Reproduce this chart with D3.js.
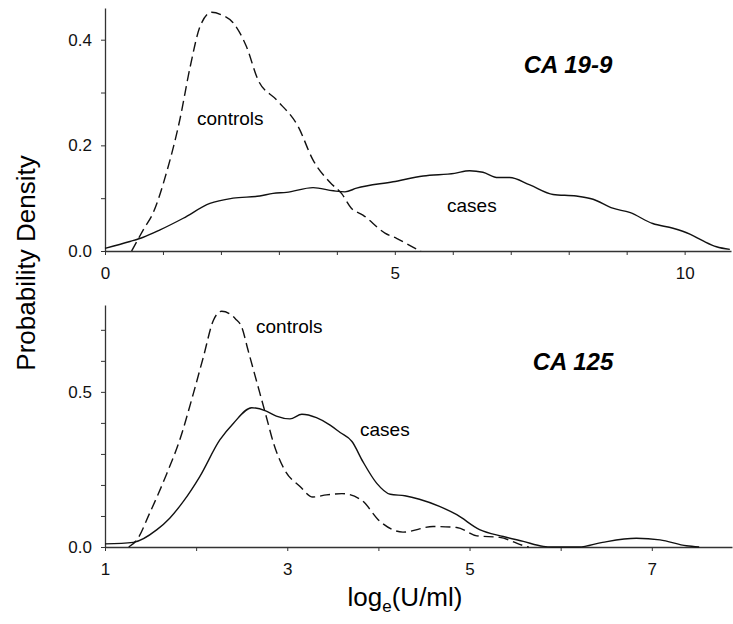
<!DOCTYPE html>
<html>
<head>
<meta charset="utf-8">
<script src="https://cdn.jsdelivr.net/npm/d3@7"></script>
<style>
  body { margin: 0; background: #fff; }
  text { font-family: "Liberation Sans", Arial, sans-serif; }
</style>
</head>
<body>
<div id="chart"></div>
<script>
// CA 19-9 panel: [log_e(U/ml), density]
var ca199Controls = [[0.46,0],[0.66,0.04],[0.83,0.072],[1.06,0.148],[1.29,0.248],[1.47,0.349],[1.64,0.425],
  [1.84,0.452],[2.01,0.447],[2.21,0.432],[2.44,0.387],[2.64,0.324],[2.96,0.286],[3.33,0.236],[3.59,0.172],
  [3.88,0.13],[4.08,0.109],[4.25,0.081],[4.45,0.068],[4.83,0.034],[5.03,0.024],[5.37,0.004],[5.45,0]];
var ca199Cases = [[0,0.005],[0.43,0.018],[0.66,0.026],[0.95,0.04],[1.35,0.062],[1.81,0.09],[2.21,0.1],
  [2.67,0.104],[2.9,0.109],[3.13,0.111],[3.59,0.12],[3.94,0.114],[4.14,0.112],[4.34,0.119],[4.97,0.131],
  [5.49,0.142],[6.03,0.147],[6.29,0.152],[6.52,0.149],[6.78,0.139],[6.98,0.139],[7.33,0.125],[7.73,0.107],
  [8.13,0.104],[8.42,0.098],[8.76,0.081],[9.05,0.073],[9.45,0.052],[9.8,0.043],[10.09,0.032],[10.32,0.019],
  [10.55,0.008],[10.78,0.003]];

// CA 125 panel
var ca125Controls = [[1.26,0],[1.35,0.023],[1.49,0.109],[1.68,0.238],[1.82,0.345],[1.97,0.495],[2.08,0.613],
  [2.19,0.731],[2.28,0.76],[2.43,0.736],[2.5,0.709],[2.57,0.634],[2.7,0.495],[2.77,0.42],[2.85,0.334],
  [2.97,0.249],[3.14,0.195],[3.28,0.161],[3.43,0.168],[3.6,0.172],[3.81,0.152],[4.02,0.082],[4.27,0.048],
  [4.6,0.066],[4.86,0.063],[5.08,0.036],[5.33,0.031],[5.62,0.002],[5.65,0]];
var ca125Cases = [[1,0.01],[1.31,0.015],[1.57,0.056],[1.71,0.093],[1.86,0.147],[2.04,0.227],[2.26,0.345],
  [2.41,0.399],[2.61,0.449],[2.77,0.438],[2.88,0.422],[3.03,0.413],[3.16,0.428],[3.32,0.417],[3.47,0.393],
  [3.58,0.369],[3.71,0.34],[3.83,0.275],[3.98,0.206],[4.13,0.17],[4.29,0.165],[4.45,0.154],[4.67,0.131],
  [4.86,0.104],[5.11,0.056],[5.37,0.034],[5.59,0.018],[5.81,0.002],[5.9,0],[6.2,0],[6.46,0.015],
  [6.83,0.028],[7.09,0.023],[7.38,0.004],[7.52,0]];

var topXTicks = [0,1,2,3,4,5,6,7,8,9,10];
var topXLabels = [0,5,10];
var topYTicks = [0,0.1,0.2,0.3,0.4];
var topYLabels = [0,0.2,0.4];
var botXTicks = [1,2,3,4,5,6,7];
var botXLabels = [1,3,5,7];
var botYTicks = [0,0.1,0.2,0.3,0.4,0.5,0.6,0.7];
var botYLabels = [0,0.5];

var width = 733, height = 624;

var svg = d3.select('#chart').append('svg')
  .attr('width', width)
  .attr('height', height);

function panel(opt) {
  var x = d3.scaleLinear().domain(opt.xDomain).range([105, opt.right]);
  var y = d3.scaleLinear().domain(opt.yDomain).range([opt.bottom, opt.top]);
  var g = svg.append('g');

  var xAxis = d3.axisBottom(x)
    .tickValues(opt.xTicks)
    .tickSize(4).tickSizeOuter(0).tickPadding(12)
    .tickFormat(function(d) { return opt.xLabels.indexOf(d) >= 0 ? d : ''; });
  var yAxis = d3.axisLeft(y)
    .tickValues(opt.yTicks)
    .tickSize(4).tickSizeOuter(0).tickPadding(9)
    .tickFormat(function(d) { return opt.yLabels.some(function(v) { return Math.abs(v - d) < 1e-9; }) ? d3.format('.1f')(d) : ''; });

  g.append('g').attr('transform', 'translate(0,' + opt.bottom + ')').call(xAxis);
  g.append('g').attr('transform', 'translate(105,0)').call(yAxis);
  g.selectAll('.domain').attr('stroke', '#333').attr('stroke-width', 1.3);
  g.selectAll('.tick line').attr('stroke', '#333');
  g.selectAll('.tick text').attr('font-size', 17).attr('fill', '#111')
    .style('font-family', '"Liberation Sans", Arial, sans-serif');

  var line = d3.line()
    .x(function(d) { return x(d[0]); })
    .y(function(d) { return y(d[1]); })
    .curve(d3.curveMonotoneX);

  g.append('path').datum(opt.controls)
    .attr('d', line).attr('fill', 'none')
    .attr('stroke', '#111').attr('stroke-width', 1.4)
    .attr('stroke-dasharray', '10,5');
  g.append('path').datum(opt.cases)
    .attr('d', line).attr('fill', 'none')
    .attr('stroke', '#111').attr('stroke-width', 1.4);

  g.append('text').attr('x', opt.title[0]).attr('y', opt.title[1])
    .attr('text-anchor', 'middle').attr('font-size', 24)
    .attr('font-weight', 'bold').attr('font-style', 'italic')
    .text(opt.title[2]);
  g.append('text').attr('x', opt.ctrlLabel[0]).attr('y', opt.ctrlLabel[1])
    .attr('font-size', 19).text('controls');
  g.append('text').attr('x', opt.caseLabel[0]).attr('y', opt.caseLabel[1])
    .attr('font-size', 19).text('cases');
}

panel({
  xDomain: [0, 10.8], right: 731, yDomain: [0, 0.46], top: 8, bottom: 251,
  xTicks: topXTicks, xLabels: topXLabels, yTicks: topYTicks, yLabels: topYLabels,
  controls: ca199Controls, cases: ca199Cases,
  title: [568, 73, 'CA 19-9'], ctrlLabel: [197, 125], caseLabel: [447, 212]
});

panel({
  xDomain: [1, 7.88], right: 732, yDomain: [0, 0.78], top: 305, bottom: 547,
  xTicks: botXTicks, xLabels: botXLabels, yTicks: botYTicks, yLabels: botYLabels,
  controls: ca125Controls, cases: ca125Cases,
  title: [573, 370, 'CA 125'], ctrlLabel: [256, 333], caseLabel: [360, 436]
});

svg.append('text')
  .attr('transform', 'translate(35,263) rotate(-90)')
  .attr('text-anchor', 'middle')
  .attr('font-size', 26)
  .text('Probability Density');

var xl = svg.append('text')
  .attr('x', 405).attr('y', 606)
  .attr('text-anchor', 'middle')
  .attr('font-size', 26);
xl.append('tspan').text('log');
xl.append('tspan').attr('font-size', 17).attr('dy', 6).text('e');
xl.append('tspan').attr('dy', -6).text('(U/ml)');
</script>
</body>
</html>
